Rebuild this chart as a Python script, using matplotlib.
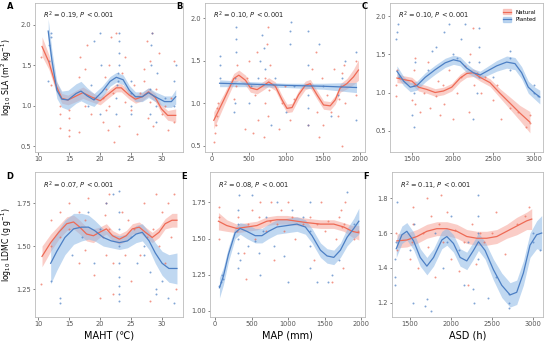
import numpy as np
import matplotlib.pyplot as plt
from matplotlib.patches import Patch
from matplotlib.lines import Line2D

NAT = '#EE6A55'
PLA = '#4C7FC4'
NAT_FILL = '#F7A59A'
PLA_FILL = '#8DB8E6'

# ---- fitted curves (x, y, se) ----
a_nat_x = [10.6, 11.7, 12.75, 13.8, 14.8, 16.4, 17.2, 18.5, 20.0, 21.1, 22.6, 23.4, 24.7, 25.7, 26.8, 27.8, 28.9, 29.9, 30.9, 32.2]
a_nat_y = [1.73, 1.54, 1.27, 1.09, 1.07, 1.13, 1.16, 1.11, 1.06, 1.13, 1.22, 1.22, 1.13, 1.08, 1.11, 1.17, 1.10, 0.96, 0.88, 0.88]
a_nat_se = [0.12, 0.09, 0.07, 0.06, 0.06, 0.07, 0.07, 0.06, 0.05, 0.05, 0.05, 0.05, 0.05, 0.05, 0.05, 0.05, 0.05, 0.05, 0.06, 0.08]
a_pla_x = [11.6, 12.2, 13.0, 13.8, 14.8, 16.1, 16.9, 17.9, 19.0, 20.3, 21.6, 22.6, 23.7, 24.7, 25.7, 26.8, 27.8, 28.9, 30.4, 31.5, 32.2]
a_pla_y = [1.92, 1.56, 1.19, 1.08, 1.07, 1.15, 1.18, 1.12, 1.07, 1.17, 1.30, 1.35, 1.32, 1.19, 1.11, 1.11, 1.16, 1.11, 1.05, 1.05, 1.11]
a_pla_se = [0.15, 0.12, 0.10, 0.10, 0.12, 0.12, 0.12, 0.10, 0.08, 0.07, 0.06, 0.06, 0.06, 0.06, 0.06, 0.06, 0.06, 0.06, 0.07, 0.07, 0.09]

b_nat_x = [22, 157, 292, 360, 450, 517, 607, 697, 764, 854, 944, 1011, 1079, 1168, 1258, 1326, 1416, 1505, 1595, 1663, 1730, 1820, 1910, 1977]
b_nat_y = [0.80, 1.04, 1.29, 1.33, 1.27, 1.18, 1.16, 1.21, 1.25, 1.20, 1.04, 0.94, 0.95, 1.10, 1.21, 1.23, 1.10, 0.98, 0.97, 1.04, 1.18, 1.23, 1.31, 1.39]
b_nat_se = [0.10, 0.07, 0.06, 0.06, 0.06, 0.05, 0.05, 0.05, 0.05, 0.05, 0.05, 0.05, 0.05, 0.05, 0.05, 0.05, 0.05, 0.05, 0.05, 0.05, 0.05, 0.06, 0.09, 0.12]
b_pla_x = [100, 500, 1000, 1500, 1950]
b_pla_y = [1.235, 1.225, 1.21, 1.20, 1.185]
b_pla_se = [0.04, 0.03, 0.025, 0.035, 0.06]

c_nat_x = [1316, 1398, 1500, 1582, 1684, 1786, 1888, 1990, 2093, 2174, 2256, 2338, 2460, 2583, 2706, 2828, 2951]
c_nat_y = [1.19, 1.17, 1.15, 1.07, 1.04, 1.00, 1.02, 1.07, 1.19, 1.25, 1.26, 1.20, 1.13, 0.99, 0.86, 0.73, 0.61]
c_nat_se = [0.06, 0.05, 0.05, 0.05, 0.05, 0.05, 0.05, 0.05, 0.05, 0.05, 0.05, 0.05, 0.05, 0.06, 0.08, 0.10, 0.14]
c_pla_x = [1316, 1398, 1480, 1561, 1664, 1786, 1909, 2011, 2093, 2174, 2256, 2338, 2440, 2542, 2665, 2767, 2849, 2931, 3012, 3073]
c_pla_y = [1.28, 1.15, 1.07, 1.09, 1.20, 1.30, 1.39, 1.43, 1.41, 1.32, 1.26, 1.23, 1.29, 1.35, 1.40, 1.38, 1.26, 1.07, 0.99, 0.94]
c_pla_se = [0.07, 0.06, 0.06, 0.06, 0.06, 0.06, 0.06, 0.06, 0.06, 0.06, 0.05, 0.05, 0.06, 0.07, 0.08, 0.08, 0.08, 0.08, 0.08, 0.09]

d_nat_x = [10.6, 12.0, 13.3, 14.6, 15.7, 16.7, 17.8, 18.9, 19.9, 21.0, 22.0, 23.1, 24.2, 25.2, 26.3, 27.3, 28.4, 29.5, 30.5, 31.6, 32.4]
d_nat_y = [1.44, 1.52, 1.58, 1.63, 1.64, 1.61, 1.57, 1.56, 1.58, 1.60, 1.56, 1.54, 1.56, 1.60, 1.61, 1.58, 1.55, 1.58, 1.63, 1.65, 1.65]
d_nat_se = [0.06, 0.05, 0.04, 0.04, 0.04, 0.04, 0.04, 0.04, 0.03, 0.03, 0.03, 0.03, 0.03, 0.03, 0.03, 0.03, 0.03, 0.03, 0.03, 0.04, 0.04]
d_pla_x = [12.0, 13.0, 14.3, 15.7, 17.0, 18.1, 19.1, 20.5, 21.8, 23.1, 24.4, 25.8, 26.8, 27.9, 28.9, 30.0, 31.1, 32.4]
d_pla_y = [1.40, 1.47, 1.55, 1.60, 1.61, 1.61, 1.59, 1.55, 1.53, 1.52, 1.53, 1.57, 1.58, 1.53, 1.46, 1.40, 1.37, 1.37]
d_pla_se = [0.12, 0.11, 0.10, 0.09, 0.08, 0.07, 0.06, 0.05, 0.04, 0.04, 0.04, 0.05, 0.05, 0.05, 0.06, 0.07, 0.08, 0.09]

e_nat_x = [46, 160, 297, 435, 572, 709, 847, 984, 1121, 1259, 1442, 1625, 1762, 1877, 1968]
e_nat_y = [1.62, 1.59, 1.57, 1.58, 1.59, 1.62, 1.63, 1.63, 1.62, 1.61, 1.60, 1.60, 1.58, 1.55, 1.54]
e_nat_se = [0.06, 0.04, 0.03, 0.03, 0.03, 0.03, 0.03, 0.03, 0.03, 0.03, 0.03, 0.03, 0.03, 0.04, 0.05]
e_pla_x = [60, 114, 183, 275, 343, 435, 549, 641, 732, 847, 984, 1121, 1236, 1327, 1442, 1533, 1625, 1716, 1808, 1899, 1968]
e_pla_y = [1.16, 1.24, 1.39, 1.54, 1.57, 1.55, 1.52, 1.52, 1.55, 1.58, 1.59, 1.60, 1.58, 1.52, 1.42, 1.38, 1.37, 1.42, 1.51, 1.57, 1.62]
e_pla_se = [0.07, 0.06, 0.05, 0.04, 0.04, 0.05, 0.05, 0.05, 0.05, 0.05, 0.05, 0.05, 0.05, 0.05, 0.05, 0.05, 0.05, 0.05, 0.06, 0.07, 0.09]

f_nat_x = [1338, 1459, 1581, 1703, 1824, 1946, 2068, 2189, 2311, 2432, 2554, 2676, 2797, 2919, 2980]
f_nat_y = [1.555, 1.56, 1.58, 1.61, 1.625, 1.625, 1.61, 1.58, 1.57, 1.57, 1.58, 1.61, 1.64, 1.67, 1.68]
f_nat_se = [0.04, 0.04, 0.04, 0.04, 0.04, 0.04, 0.04, 0.04, 0.04, 0.04, 0.04, 0.04, 0.05, 0.05, 0.06]
f_pla_x = [1330, 1399, 1459, 1541, 1622, 1703, 1784, 1885, 1946, 2027, 2108, 2189, 2270, 2331, 2412, 2513, 2615, 2716, 2797, 2878, 2959, 3040, 3101]
f_pla_y = [1.51, 1.59, 1.61, 1.555, 1.46, 1.41, 1.46, 1.56, 1.58, 1.54, 1.46, 1.44, 1.50, 1.55, 1.50, 1.39, 1.30, 1.245, 1.26, 1.37, 1.53, 1.59, 1.60]
f_pla_se = [0.05, 0.05, 0.05, 0.05, 0.05, 0.05, 0.05, 0.05, 0.05, 0.05, 0.05, 0.05, 0.05, 0.05, 0.05, 0.06, 0.07, 0.07, 0.07, 0.07, 0.07, 0.08, 0.10]

# ---- observations (approximate) ----
a_nat_pts = [(10.5, 1.6), (12, 1.25), (13.5, 0.72), (13.5, 0.9), (13.5, 1.0), (15, 0.62), (15, 0.7), (15, 0.85), (15, 0.95),
             (16.5, 0.68), (16.5, 1.35), (16.7, 1.6), (17.5, 1.0), (17.5, 1.45), (17.8, 1.75), (18.5, 0.9), (20.5, 0.8),
             (20.5, 1.1), (20.8, 1.35), (21, 0.95), (21, 1.2), (21.2, 0.7), (21.5, 1.0), (21.5, 1.5), (21.8, 1.85), (22, 1.15),
             (22.2, 0.55), (22.5, 1.9), (23, 0.75), (23.5, 1.4), (24, 1.05), (24, 1.6), (25, 0.95), (25.5, 1.25), (26, 0.65),
             (26.5, 1.15), (27, 1.3), (27, 1.45), (27.5, 1.8), (27.8, 0.85), (28, 1.05), (28, 1.55), (28.3, 1.9), (28.5, 0.75),
             (29, 1.2), (29.5, 1.65), (30, 0.9), (30.5, 1.0), (31, 0.7), (31.5, 1.1), (32, 1.55), (32, 0.8)]
a_pla_pts = [(11.5, 1.3), (11.7, 1.55), (11.8, 1.75), (12, 1.9), (12, 1.85), (18, 1.0), (18.5, 1.25), (19, 1.8), (19, 1.1),
             (20, 0.9), (20, 1.9), (20.2, 1.5), (22.5, 0.9), (22.5, 1.1), (22.7, 1.25), (22.8, 1.4), (23, 1.5), (23, 1.65),
             (23, 1.8), (23, 1.9), (22.8, 1.3), (25, 0.9), (25, 1.0), (25, 1.15), (25, 1.3), (28, 0.9), (28, 1.2), (28.2, 1.5),
             (28.2, 1.75), (28.3, 1.9), (29, 0.8), (29, 1.0), (29.2, 1.4), (30.5, 1.1), (32, 1.0), (32, 1.3), (32.2, 1.5)]
b_nat_pts = [(30, 0.55), (40, 0.65), (50, 0.75), (60, 0.85), (70, 0.95), (80, 1.0), (300, 1.05), (320, 1.2), (330, 1.45),
             (450, 0.7), (470, 1.3), (500, 1.5), (550, 0.65), (580, 1.1), (600, 1.6), (620, 0.8), (700, 0.6), (710, 1.0),
             (720, 1.3), (740, 1.7), (750, 1.9), (760, 0.85), (770, 1.15), (780, 1.45), (900, 0.7), (950, 1.0), (980, 1.2),
             (1050, 0.8), (1100, 1.05), (1300, 0.75), (1350, 1.4), (1400, 1.6), (1420, 0.9), (1450, 0.6), (1480, 1.3),
             (1500, 0.75), (1550, 1.1), (1600, 0.9), (1650, 1.4), (1700, 0.85), (1720, 1.05), (1740, 1.2), (1750, 0.5),
             (1760, 1.35), (1780, 1.45), (1800, 1.0), (1950, 1.1), (1950, 1.5)]
b_pla_pts = [(100, 1.3), (100, 1.45), (110, 1.55), (300, 0.9), (310, 1.0), (310, 1.3), (320, 1.6), (320, 1.75), (320, 1.9),
             (500, 1.0), (520, 1.2), (620, 1.3), (650, 1.5), (680, 1.8), (700, 1.65), (720, 1.4), (800, 0.75), (850, 1.3),
             (1000, 0.9), (1050, 1.7), (1050, 1.85), (1060, 1.95), (1100, 1.2), (1300, 0.75), (1300, 0.95), (1300, 1.1),
             (1300, 1.45), (1300, 1.85), (1450, 1.7), (1500, 1.2), (1600, 0.85), (1700, 1.1), (1750, 1.3), (1800, 1.5),
             (1950, 0.8), (1950, 1.6)]
c_nat_pts = [(1310, 0.95), (1310, 1.1), (1320, 1.3), (1500, 0.9), (1520, 1.1), (1530, 1.3), (1540, 0.85), (1540, 1.45),
             (1600, 0.75), (1650, 1.0), (1700, 1.4), (1720, 0.8), (1800, 0.95), (1820, 1.15), (1850, 0.7), (1880, 1.1),
             (1900, 0.85), (1950, 1.3), (2000, 0.65), (2050, 1.0), (2100, 1.2), (2150, 1.35), (2200, 0.75), (2220, 1.5),
             (2250, 1.85), (2260, 1.1), (2300, 1.25), (2350, 1.0), (2400, 1.2), (2500, 0.9), (2550, 1.1), (2600, 0.65),
             (2700, 0.8), (2800, 0.75), (2900, 0.55), (2950, 0.6), (2950, 0.7)]
c_pla_pts = [(1310, 1.7), (1320, 1.8), (1330, 1.9), (1340, 1.2), (1500, 0.7), (1520, 0.55), (1530, 1.0), (1540, 1.4),
             (1700, 1.3), (1750, 1.55), (1800, 1.6), (1900, 1.8), (1950, 1.9), (2000, 1.5), (2050, 1.45), (2100, 1.7),
             (2150, 1.9), (2200, 1.4), (2250, 0.65), (2300, 1.0), (2320, 1.2), (2330, 1.4), (2330, 1.6), (2330, 1.85),
             (2500, 1.2), (2700, 1.3), (2700, 1.45), (2700, 1.55), (3000, 1.0), (3000, 1.1), (3050, 0.95)]
d_nat_pts = [(10.5, 1.28), (12, 1.5), (12, 1.65), (13.5, 1.55), (13.5, 1.7), (15, 1.6), (15, 1.75), (16.5, 1.4), (16.5, 1.7),
             (17.5, 1.48), (17.5, 1.65), (18, 1.78), (19, 1.33), (20, 1.2), (20.5, 1.55), (20.8, 1.68), (21, 1.75), (21, 1.45),
             (21.5, 1.6), (21.5, 1.8), (22, 1.4), (22, 1.22), (23.5, 1.7), (24, 1.45), (24.5, 1.65), (25, 1.3), (25.5, 1.6),
             (26.5, 1.45), (27, 1.75), (27.5, 1.55), (28, 1.18), (28.5, 1.6), (29, 1.8), (29.5, 1.5), (30, 1.7), (30.5, 1.4),
             (31, 1.75), (31.5, 1.55), (32, 1.8), (32.3, 1.25)]
d_pla_pts = [(12, 1.3), (13.5, 1.2), (13.5, 1.17), (15.5, 1.45), (17, 1.55), (18, 1.7), (19, 1.4), (20, 1.6), (21, 1.75),
             (22, 1.8), (23, 1.18), (23, 1.22), (23, 1.27), (23, 1.32), (23, 1.4), (23, 1.5), (23, 1.6), (23, 1.7), (23, 1.82),
             (25, 1.55), (26, 1.4), (27, 1.45), (27, 1.5), (28, 1.35), (29, 1.22), (29, 1.25), (30, 1.3), (31, 1.2), (32, 1.17)]
e_nat_pts = [(50, 1.5), (50, 1.65), (60, 1.72), (300, 1.55), (320, 1.65), (400, 1.4), (420, 1.22), (450, 1.6), (500, 1.7),
             (550, 1.5), (600, 1.65), (620, 1.75), (700, 1.55), (750, 1.62), (760, 1.75), (800, 1.35), (850, 1.6), (900, 1.7),
             (950, 1.55), (1000, 1.75), (1050, 1.65), (1100, 1.5), (1200, 1.6), (1300, 1.65), (1350, 1.35), (1400, 1.6),
             (1450, 1.75), (1500, 1.55), (1550, 1.62), (1600, 1.2), (1650, 1.5), (1700, 1.65), (1720, 1.7), (1740, 1.58),
             (1750, 1.3), (1760, 1.6), (1780, 1.75), (1900, 1.5), (1950, 1.55)]
e_pla_pts = [(60, 1.17), (80, 1.2), (100, 1.25), (110, 1.22), (320, 1.3), (320, 1.4), (320, 1.5), (320, 1.6), (320, 1.7),
             (330, 1.8), (340, 1.35), (450, 1.45), (500, 1.8), (550, 1.48), (600, 1.4), (620, 1.25), (650, 1.55), (700, 1.65),
             (800, 1.45), (850, 1.75), (950, 1.38), (1000, 1.2), (1050, 1.7), (1200, 1.65), (1300, 1.3), (1300, 1.45),
             (1300, 1.55), (1300, 1.75), (1400, 1.2), (1550, 1.2), (1600, 1.25), (1700, 1.35), (1800, 1.82), (1900, 1.6)]
f_nat_pts = [(1330, 1.6), (1340, 1.5), (1500, 1.45), (1520, 1.55), (1530, 1.65), (1540, 1.75), (1600, 1.4), (1650, 1.6),
             (1700, 1.8), (1720, 1.52), (1750, 1.7), (1800, 1.35), (1850, 1.65), (1880, 1.82), (1900, 1.55), (1950, 1.72),
             (2000, 1.45), (2050, 1.62), (2100, 1.38), (2150, 1.55), (2200, 1.3), (2250, 1.65), (2300, 1.42), (2350, 1.6),
             (2400, 1.55), (2500, 1.6), (2550, 1.72), (2650, 1.48), (2800, 1.65), (2900, 1.7), (2950, 1.75)]
f_pla_pts = [(1310, 1.3), (1310, 1.35), (1320, 1.45), (1330, 1.55), (1340, 1.78), (1500, 1.5), (1540, 1.2), (1550, 1.65),
             (1680, 1.18), (1700, 1.22), (1750, 1.15), (1800, 1.6), (1900, 1.4), (1950, 1.55), (2000, 1.7), (2100, 1.5),
             (2150, 1.3), (2200, 1.55), (2260, 1.28), (2280, 1.2), (2330, 1.45), (2330, 1.6), (2330, 1.7), (2330, 1.82),
             (2450, 1.23), (2550, 1.35), (2700, 1.17), (2700, 1.2), (2700, 1.25), (3000, 1.55), (3000, 1.6), (3080, 1.5)]

stats = ['0.19', '0.10', '0.10', '0.07', '0.08', '0.11']
letters = ['A', 'B', 'C', 'D', 'E', 'F']
xlabels = ['', '', '', 'MAHT (℃)', 'MAP (mm)', 'ASD (h)']

panels = [
    dict(nat=(a_nat_x, a_nat_y, a_nat_se), pla=(a_pla_x, a_pla_y, a_pla_se), npts=a_nat_pts, ppts=a_pla_pts,
         pos=[0.064, 0.556, 0.269, 0.436], xlim=(9.5, 33.4), ylim=(0.43, 2.27), xt=[10, 15, 20, 25, 30], yt=[0.5, 1.0, 1.5, 2.0], fmt='%.1f'),
    dict(nat=(b_nat_x, b_nat_y, b_nat_se), pla=(b_pla_x, b_pla_y, b_pla_se), npts=b_nat_pts, ppts=b_pla_pts,
         pos=[0.373, 0.556, 0.291, 0.436], xlim=(-95, 2068), ylim=(0.43, 2.18), xt=[0, 500, 1000, 1500, 2000], yt=[0.5, 1.0, 1.5, 2.0], fmt='%.1f'),
    dict(nat=(c_nat_x, c_nat_y, c_nat_se), pla=(c_pla_x, c_pla_y, c_pla_se), npts=c_nat_pts, ppts=c_pla_pts,
         pos=[0.709, 0.556, 0.278, 0.436], xlim=(1230, 3110), ylim=(0.22, 2.18), xt=[1500, 2000, 2500, 3000], yt=[0.5, 1.0, 1.5, 2.0], fmt='%.1f'),
    dict(nat=(d_nat_x, d_nat_y, d_nat_se), pla=(d_pla_x, d_pla_y, d_pla_se), npts=d_nat_pts, ppts=d_pla_pts,
         pos=[0.064, 0.074, 0.269, 0.423], xlim=(9.5, 33.4), ylim=(1.09, 1.93), xt=[10, 15, 20, 25, 30], yt=[1.25, 1.50, 1.75], fmt='%.2f'),
    dict(nat=(e_nat_x, e_nat_y, e_nat_se), pla=(e_pla_x, e_pla_y, e_pla_se), npts=e_nat_pts, ppts=e_pla_pts,
         pos=[0.382, 0.074, 0.282, 0.423], xlim=(-68, 2055), ylim=(0.96, 1.96), xt=[0, 500, 1000, 1500, 2000], yt=[1.00, 1.25, 1.50, 1.75], fmt='%.2f'),
    dict(nat=(f_nat_x, f_nat_y, f_nat_se), pla=(f_pla_x, f_pla_y, f_pla_se), npts=f_nat_pts, ppts=f_pla_pts,
         pos=[0.713, 0.074, 0.275, 0.423], xlim=(1280, 3122), ylim=(1.12, 1.95), xt=[1500, 2000, 2500, 3000], yt=[1.2, 1.4, 1.6, 1.8], fmt='%.1f'),
]

fig = plt.figure(figsize=(5.5, 3.42), dpi=100)

for i, p in enumerate(panels):
    ax = fig.add_axes(p['pos'])
    for pts, col in [(p['npts'], NAT), (p['ppts'], PLA)]:
        arr = np.array(pts)
        ax.scatter(arr[:, 0], arr[:, 1], s=2, color=col, alpha=0.7, linewidths=0, zorder=2)
    for (x, y, se), line, fill in [(p['nat'], NAT, NAT_FILL), (p['pla'], PLA, PLA_FILL)]:
        x = np.array(x); y = np.array(y); se = np.array(se)
        ax.fill_between(x, y - se, y + se, color=fill, alpha=0.55, linewidth=0, zorder=1)
        ax.plot(x, y, color=line, lw=0.9, zorder=3, solid_joinstyle='round')
    ax.set_xlim(p['xlim'])
    ax.set_ylim(p['ylim'])
    ax.set_xticks(p['xt'])
    ax.set_yticks(p['yt'])
    ax.set_yticklabels([p['fmt'] % v for v in p['yt']])
    ax.tick_params(labelsize=4.8, colors='#555555', length=1.8, width=0.5, pad=1.0)
    for s in ax.spines.values():
        s.set_color('#bbbbbb')
        s.set_linewidth(0.6)
    ax.text(0.05, 0.95, r'$R^2$ = %s, $P$ < 0.001' % stats[i], transform=ax.transAxes,
            fontsize=4.8, va='top', ha='left', color='#222222')
    cx = p['pos'][0] + p['pos'][2] / 2
    if xlabels[i]:
        fig.text(cx, 0.018, xlabels[i], fontsize=7, ha='center', va='center')
    fig.text(p['pos'][0] - 0.052, p['pos'][1] + p['pos'][3] - 0.012, letters[i],
             fontsize=6, fontweight='bold', ha='left', va='center')
    cy = p['pos'][1] + p['pos'][3] / 2
    if i == 0:
        fig.text(0.013, cy, r'log$_{10}$ SLA (m$^2$ kg$^{-1}$)', fontsize=5.6,
                 rotation=90, ha='center', va='center')
    if i == 3:
        fig.text(0.013, cy, r'log$_{10}$ LDMC (g g$^{-1}$)', fontsize=5.6,
                 rotation=90, ha='center', va='center')
    if i == 2:
        handles = [(Patch(color=NAT_FILL, alpha=0.55), Line2D([], [], color=NAT, lw=0.9)),
                   (Patch(color=PLA_FILL, alpha=0.55), Line2D([], [], color=PLA, lw=0.9))]
        ax.legend(handles, ['Natural', 'Planted'], loc='upper right', fontsize=4, frameon=False,
                  handlelength=1.5, handleheight=1.0, borderaxespad=0.8, labelspacing=0.4)

fig.savefig('out.png', dpi=100)
